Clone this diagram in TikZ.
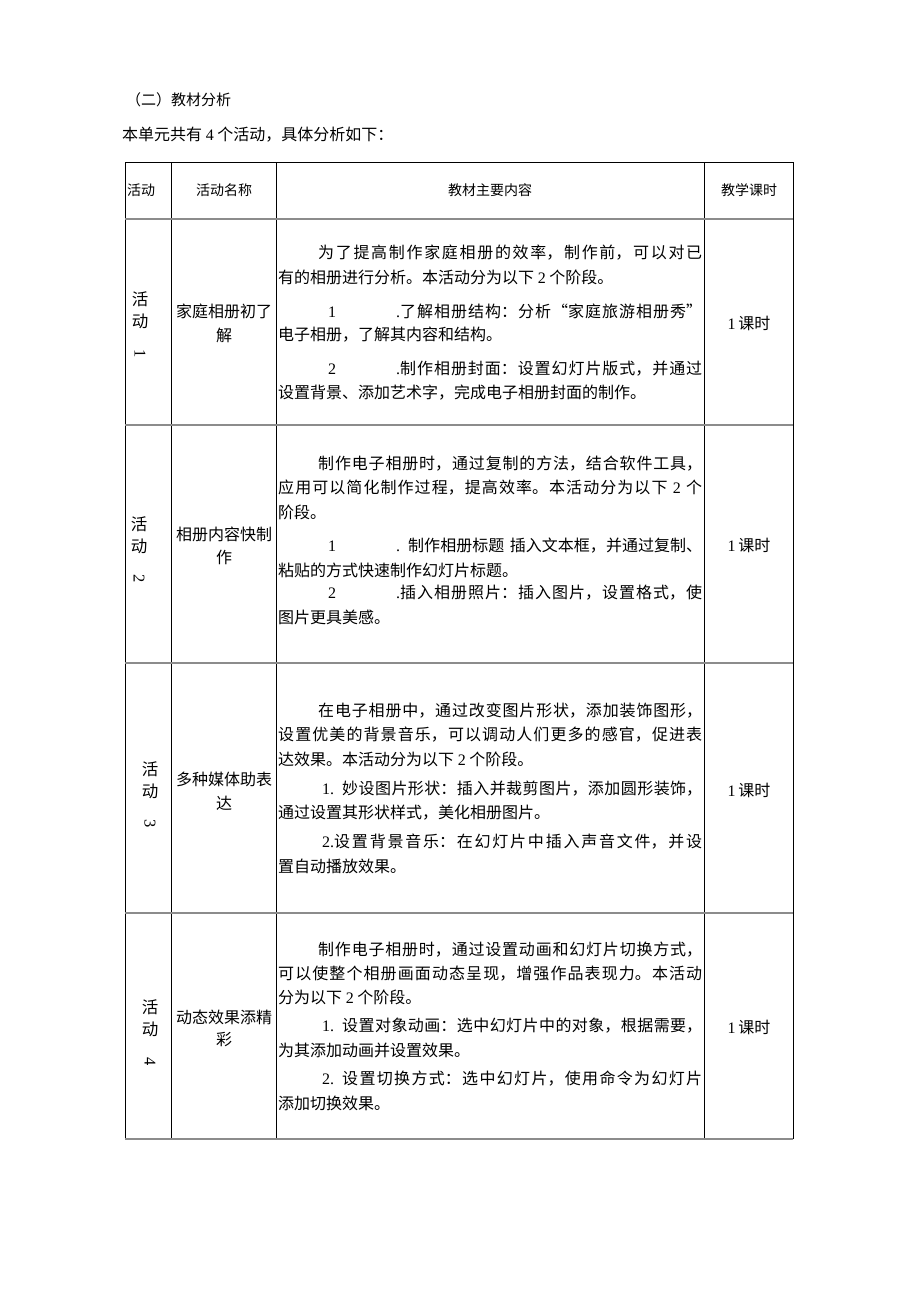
\documentclass[tikz,border=0pt]{standalone}
\usepackage{fontspec}
\setmainfont{Noto Sans CJK SC}
\newfontfamily\lat{Liberation Serif}
\XeTeXlinebreaklocale "zh"
\XeTeXlinebreakskip=0pt
\newcommand\bodyfont{\fontsize{16}{20}\selectfont}
\newcommand\headfont{\fontsize{14}{17}\selectfont}
\newcommand\vfont{\fontsize{16.5}{22}\selectfont}
\newcommand\jline[2][0pt]{{\rightskip=0pt\leftskip=0pt\parfillskip=0pt\parindent=0pt\XeTeXlinebreakskip=0pt plus 1fil\hspace*{#1}#2\par}}
\tikzset{
  fullline/.style={anchor=west, inner sep=0pt, text width=424pt, font=\bodyfont},
  plainline/.style={anchor=west, inner sep=0pt, font=\bodyfont},
  ctext/.style={inner sep=0pt, font=\bodyfont, align=center},
  vtext/.style={inner sep=0pt, font=\vfont, align=center},
  head/.style={inner sep=0pt, font=\headfont},
  frame/.style={line width=0.8pt, black},
  sepline/.style={line width=1.6pt, black!45}
}
\begin{document}
\begin{tikzpicture}[x=1pt,y=-1pt]
\fill[white] (0,0) rectangle (920,1301);
\useasboundingbox (0,0) rectangle (920,1301);

% title lines
\node[anchor=west, inner sep=0pt, font=\fontsize{15}{18}\selectfont] (title) at (126,100) {（二）教材分析};
\node[plainline] (intro) at (122,135) {本单元共有 {\lat 4} 个活动，具体分析如下：};

% table grid
\draw[frame] (125,162) -- (793,162);
\draw[frame] (125,162) -- (125,1139);
\draw[frame] (793,162) -- (793,1139);
\draw[frame] (171,162) -- (171,1139);
\draw[frame] (276,162) -- (276,1139);
\draw[frame] (704,162) -- (704,1139);
\foreach \yy in {219,425,663,913,1139} \draw[sepline] (125,\yy) -- (793,\yy);

% header
\node[head, anchor=west] (h1) at (127,190) {活动};
\node[head] (h2) at (224,190) {活动名称};
\node[head] (h3) at (490,190) {教材主要内容};
\node[head] (h4) at (749,190) {教学课时};

% column 1
\node[vtext] (a1) at (140,325) {活\\动\\\rotatebox{-90}{\lat 1}};
\node[vtext] (a2) at (139,550) {活\\动\\\rotatebox{-90}{\lat 2}};
\node[vtext] (a3) at (150,795) {活\\动\\\rotatebox{-90}{\lat 3}};
\node[vtext] (a4) at (150,1033) {活\\动\\\rotatebox{-90}{\lat 4}};

% column 2
\node[ctext] (n1a) at (224,311) {家庭相册初了};
\node[ctext] (n1b) at (224,335) {解};
\node[ctext] (n2a) at (224,534) {相册内容快制};
\node[ctext] (n2b) at (224,557) {作};
\node[ctext] (n3a) at (224,779) {多种媒体助表};
\node[ctext] (n3b) at (224,803) {达};
\node[ctext] (n4a) at (224,1017) {动态效果添精};
\node[ctext] (n4b) at (224,1040) {彩};

% column 4
\node[ctext] (k1) at (749,323) {{\lat 1}\,课时};
\node[ctext] (k2) at (749,545) {{\lat 1}\,课时};
\node[ctext] (k3) at (749,790) {{\lat 1}\,课时};
\node[ctext] (k4) at (749,1027) {{\lat 1}\,课时};

% row 1 content
\node[fullline] (r1l1) at (278,253) {\jline[40pt]{为了提高制作家庭相册的效率，制作前，可以对已}};
\node[plainline] (r1l2) at (278,277) {有的相册进行分析。本活动分为以下 {\lat 2} 个阶段。};
\node[fullline] (r1l3) at (278,311) {\jline[50pt]{{\lat 1}\hspace{60pt}{\lat .}了解相册结构：分析“家庭旅游相册秀”}};
\node[plainline] (r1l4) at (278,335) {电子相册，了解其内容和结构。};
\node[fullline] (r1l5) at (278,369) {\jline[50pt]{{\lat 2}\hspace{60pt}{\lat .}制作相册封面：设置幻灯片版式，并通过}};
\node[plainline] (r1l6) at (278,393) {设置背景、添加艺术字，完成电子相册封面的制作。};

% row 2 content
\node[fullline] (r2l1) at (278,464) {\jline[40pt]{制作电子相册时，通过复制的方法，结合软件工具，}};
\node[fullline] (r2l2) at (278,488) {\jline{应用可以简化制作过程，提高效率。本活动分为以下 {\lat 2} 个}};
\node[plainline] (r2l3) at (278,512) {阶段。};
\node[fullline] (r2l4) at (278,546) {\jline[50pt]{{\lat 1}\hspace{60pt}{\lat .} 制作相册标题 插入文本框，并通过复制、}};
\node[plainline] (r2l5) at (278,570) {粘贴的方式快速制作幻灯片标题。};
\node[fullline] (r2l6) at (278,593) {\jline[50pt]{{\lat 2}\hspace{60pt}{\lat .}插入相册照片：插入图片，设置格式，使}};
\node[plainline] (r2l7) at (278,617) {图片更具美感。};

% row 3 content
\node[fullline] (r3l1) at (278,711) {\jline[40pt]{在电子相册中，通过改变图片形状，添加装饰图形，}};
\node[fullline] (r3l2) at (278,735) {\jline{设置优美的背景音乐，可以调动人们更多的感官，促进表}};
\node[plainline] (r3l3) at (278,759) {达效果。本活动分为以下 {\lat 2} 个阶段。};
\node[fullline] (r3l4) at (278,789) {\jline[44pt]{{\lat 1.} 妙设图片形状：插入并裁剪图片，添加圆形装饰，}};
\node[plainline] (r3l5) at (278,813) {通过设置其形状样式，美化相册图片。};
\node[fullline] (r3l6) at (278,842) {\jline[44pt]{{\lat 2.}设置背景音乐：在幻灯片中插入声音文件，并设}};
\node[plainline] (r3l7) at (278,866) {置自动播放效果。};

% row 4 content
\node[fullline] (r4l1) at (278,950) {\jline[40pt]{制作电子相册时，通过设置动画和幻灯片切换方式，}};
\node[fullline] (r4l2) at (278,974) {\jline{可以使整个相册画面动态呈现，增强作品表现力。本活动}};
\node[plainline] (r4l3) at (278,997) {分为以下 {\lat 2} 个阶段。};
\node[fullline] (r4l4) at (278,1026) {\jline[44pt]{{\lat 1.} 设置对象动画：选中幻灯片中的对象，根据需要，}};
\node[plainline] (r4l5) at (278,1050) {为其添加动画并设置效果。};
\node[fullline] (r4l6) at (278,1079) {\jline[44pt]{{\lat 2.} 设置切换方式：选中幻灯片，使用命令为幻灯片}};
\node[plainline] (r4l7) at (278,1103) {添加切换效果。};
\end{tikzpicture}
\end{document}
